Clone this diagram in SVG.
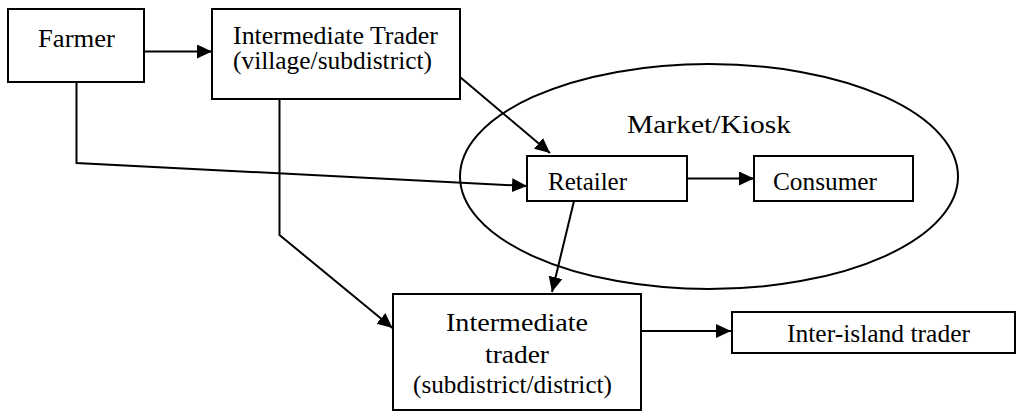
<svg xmlns="http://www.w3.org/2000/svg" width="1016" height="412" viewBox="0 0 1016 412">
  <style>
    .box { fill: #ffffff; stroke: #000000; stroke-width: 2; }
    .ring { fill: none; stroke: #000000; stroke-width: 2; }
    .edge { fill: none; stroke: #000000; stroke-width: 2; marker-end: url(#arrow); }
    .lbl { font-family: 'Liberation Serif', 'DejaVu Serif', serif; font-size: 25px; fill: #000000; }
    .mid { text-anchor: middle; }
  </style>
  <defs>
    <marker id="arrow" markerUnits="userSpaceOnUse" markerWidth="16" markerHeight="15" refX="15" refY="7" orient="auto">
      <path d="M0,0 L15,7 L0,14 z" fill="#000000"/>
    </marker>
  </defs>

  <!-- market / kiosk boundary -->
  <g id="market">
    <ellipse class="ring" cx="709" cy="176.5" rx="249" ry="112.5"/>
    <text class="lbl mid" font-family="Liberation Serif, serif" x="709" y="133" font-size="28" textLength="164" lengthAdjust="spacingAndGlyphs">Market/Kiosk</text>
  </g>

  <g id="farmer">
    <rect class="box" x="8" y="9" width="136" height="73"/>
    <text class="lbl mid" font-family="Liberation Serif, serif" x="76.5" y="47" font-size="26" textLength="77" lengthAdjust="spacingAndGlyphs">Farmer</text>
  </g>

  <g id="trader-village">
    <rect class="box" x="212" y="9" width="248" height="90"/>
    <text class="lbl mid" font-family="Liberation Serif, serif" x="335.5" y="44" font-size="24" textLength="205" lengthAdjust="spacingAndGlyphs">Intermediate Trader</text>
    <text class="lbl mid" font-family="Liberation Serif, serif" x="332.5" y="69" font-size="23" textLength="199" lengthAdjust="spacingAndGlyphs">(village/subdistrict)</text>
  </g>

  <g id="retailer">
    <rect class="box" x="527" y="156" width="160" height="45"/>
    <text class="lbl" font-family="Liberation Serif, serif" x="548" y="190" textLength="79" lengthAdjust="spacingAndGlyphs">Retailer</text>
  </g>

  <g id="consumer">
    <rect class="box" x="754" y="156" width="159" height="45"/>
    <text class="lbl" font-family="Liberation Serif, serif" x="773" y="190" textLength="104" lengthAdjust="spacingAndGlyphs">Consumer</text>
  </g>

  <g id="trader-district">
    <rect class="box" x="393" y="294" width="248" height="116"/>
    <text class="lbl mid" font-family="Liberation Serif, serif" x="517" y="331" font-size="27" textLength="142" lengthAdjust="spacingAndGlyphs">Intermediate</text>
    <text class="lbl mid" font-family="Liberation Serif, serif" x="517" y="363" font-size="27" textLength="64" lengthAdjust="spacingAndGlyphs">trader</text>
    <text class="lbl mid" font-family="Liberation Serif, serif" x="512.5" y="393" font-size="24" textLength="199" lengthAdjust="spacingAndGlyphs">(subdistrict/district)</text>
  </g>

  <g id="inter-island">
    <rect class="box" x="732" y="312" width="283" height="41"/>
    <text class="lbl" font-family="Liberation Serif, serif" x="787" y="342" font-size="24" textLength="183" lengthAdjust="spacingAndGlyphs">Inter-island trader</text>
  </g>

  <!-- trade flows -->
  <g id="connectors">
    <path class="edge" d="M144,51.5 L212,51.5"/>
    <path class="edge" d="M76.5,82 L76.5,163 L527,186"/>
    <path class="edge" d="M460,77 L550,153"/>
    <path class="edge" d="M279.5,99 L279.5,235 L392.5,328"/>
    <path class="edge" d="M687,178.5 L754,178.5"/>
    <path class="edge" d="M574,201 L552,292"/>
    <path class="edge" d="M641,331 L731,331"/>
  </g>
</svg>
